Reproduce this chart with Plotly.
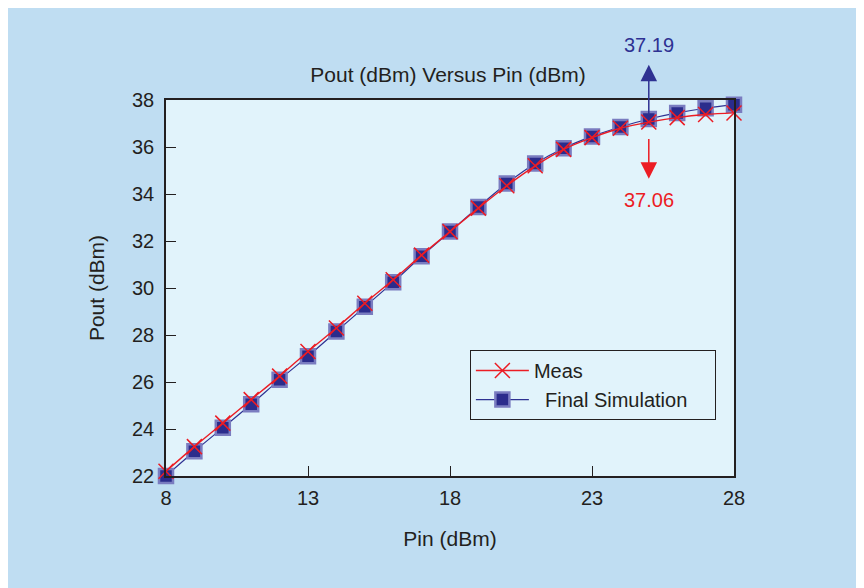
import plotly.graph_objects as go

pin = [8, 9, 10, 11, 12, 13, 14, 15, 16, 17, 18, 19, 20, 21, 22, 23, 24, 25, 26, 27, 28]
meas = [22.2, 23.25, 24.25, 25.25, 26.25, 27.3, 28.3, 29.35, 30.35, 31.4, 32.4, 33.4, 34.35, 35.2, 35.9, 36.4, 36.8, 37.06, 37.25, 37.38, 37.45]
sim = [22.0, 23.05, 24.05, 25.05, 26.1, 27.1, 28.15, 29.2, 30.25, 31.35, 32.4, 33.45, 34.45, 35.3, 35.95, 36.45, 36.85, 37.19, 37.45, 37.65, 37.8]
x_ticks = [8, 13, 18, 23, 28]
y_ticks = [22, 24, 26, 28, 30, 32, 34, 36, 38]

RED = "#ec1c24"
BLUE = "#2e3192"
TXT = "#231f20"
FONT = "Liberation Sans, Arial, sans-serif"

fig = go.Figure()
fig.add_trace(go.Scatter(
    x=pin, y=sim, name="  Final Simulation    ", mode="lines+markers",
    line=dict(color=BLUE, width=1.2, shape="spline"),
    marker=dict(symbol="square", size=14, color="#2b2c8c",
                line=dict(color="#7a7cc0", width=2.5)),
    cliponaxis=False,
))
fig.add_trace(go.Scatter(
    x=pin, y=meas, name="Meas", mode="lines+markers",
    line=dict(color=RED, width=1.4, shape="spline"),
    marker=dict(symbol="x-thin", size=15, color=RED,
                line=dict(color=RED, width=1.5)),
    cliponaxis=False,
))

# annotation arrows
fig.add_annotation(x=25, y=39.5, ax=25, ay=37.3, xref="x", yref="y", axref="x", ayref="y",
                   showarrow=True, arrowhead=2, arrowsize=2.2, arrowwidth=1.5, arrowcolor=BLUE, text="")
fig.add_annotation(x=25, y=34.65, ax=25, ay=36.4, xref="x", yref="y", axref="x", ayref="y",
                   showarrow=True, arrowhead=2, arrowsize=2.2, arrowwidth=1.5, arrowcolor=RED, text="")
fig.add_annotation(x=25, y=(476 - 45) / 376, xref="x", yref="paper", yanchor="middle",
                   text="37.19", showarrow=False,
                   font=dict(color=BLUE, size=20, family=FONT))
fig.add_annotation(x=25, y=(476 - 200) / 376, xref="x", yref="paper", yanchor="middle",
                   text="37.06", showarrow=False,
                   font=dict(color=RED, size=20, family=FONT))

fig.update_layout(
    width=864, height=588,
    margin=dict(l=158, r=138, t=92, b=120),
    paper_bgcolor="#bfddf2",
    plot_bgcolor="#e1f3fb",
    font=dict(family=FONT, size=20, color=TXT),
    title=dict(text="Pout (dBm) Versus Pin (dBm)", x=(448 - 8) / 864, xanchor="center",
               y=1 - (75 - 8) / 588, yanchor="middle", font=dict(size=21, family=FONT, color=TXT)),
    showlegend=True,
    legend=dict(x=0.535, y=0.335, xanchor="left", yanchor="top",
                bgcolor="#e1f3fb", bordercolor=TXT, borderwidth=1,
                traceorder="reversed", font=dict(size=20, family=FONT),
                itemwidth=53, tracegroupgap=0),
    xaxis=dict(range=[8, 28], tickvals=x_ticks, ticks="inside", ticklen=10, tickcolor=TXT,
               showline=True, linecolor=TXT, linewidth=1.5, mirror=True, showgrid=False,
               zeroline=False, title=dict(text="Pin (dBm)", standoff=24, font=dict(size=21)),
               tickfont=dict(size=20), ticklabelstandoff=3),
    yaxis=dict(range=[22, 38], tickvals=y_ticks, ticks="inside", ticklen=10, tickcolor=TXT,
               showline=True, linecolor=TXT, linewidth=1.5, mirror=True, showgrid=False,
               zeroline=False, title=dict(text="Pout (dBm)", standoff=22, font=dict(size=21)),
               tickfont=dict(size=20), ticklabelstandoff=6),
)

fig.write_html("out.html")
